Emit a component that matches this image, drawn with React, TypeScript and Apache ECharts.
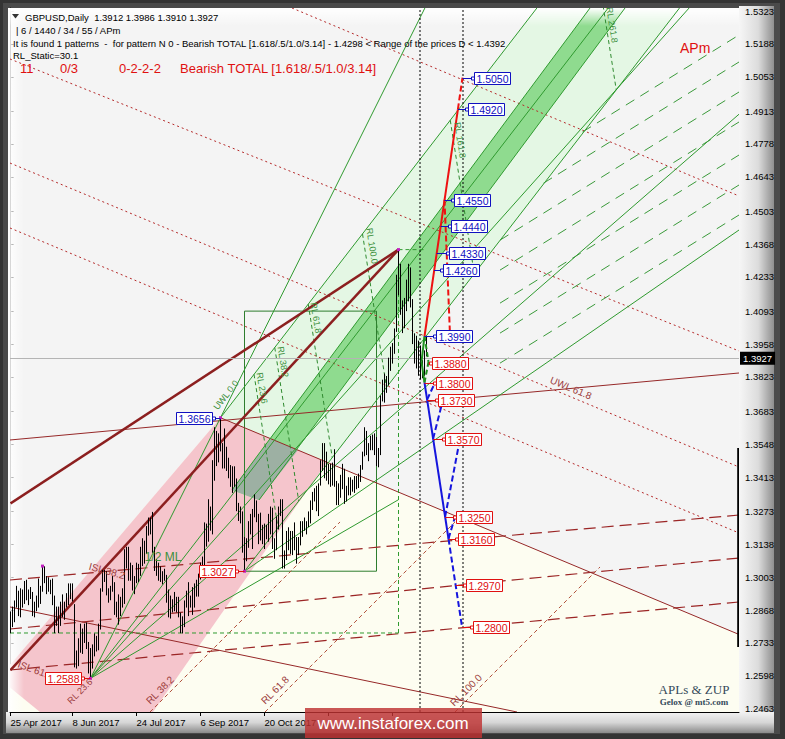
import React, { useEffect, useRef } from "react";
import * as echarts from "echarts";

const FONT = "'Liberation Sans', Arial, sans-serif";
const X_MIN = -0.25;
const X_MAX = 364.25;
const Y_MIN = 1.245;
const Y_MAX = 1.53353;

const priceTicks = [1.2463, 1.2598, 1.2733, 1.2868, 1.3003, 1.3138, 1.3273, 1.3413, 1.3548, 1.3683, 1.3823, 1.3958, 1.4093, 1.4233, 1.4368, 1.4503, 1.4643, 1.4778, 1.4913, 1.5053, 1.5188, 1.5323];
const dateTickBars = [0, 31, 63, 95, 127, 159, 191];
const dateLabelBars = [0, 31, 63, 95, 127];
const dateTickLabels = ["25 Apr 2017", "8 Jun 2017", "24 Jul 2017", "6 Sep 2017", "20 Oct 2017"];
const currentPrice = 1.3927;

const highs = [
  1.2860, 1.2880, 1.2905, 1.2965, 1.2945, 1.2955, 1.2950, 1.2985, 1.2990, 1.2950,
  1.2960, 1.2940, 1.2900, 1.2925, 1.2995, 1.2965, 1.3048, 1.3045, 1.3005, 1.3000,
  1.2990, 1.2995, 1.2925, 1.2880, 1.2880, 1.2900, 1.2930, 1.2900, 1.2935, 1.2975,
  1.2975, 1.2975, 1.2890, 1.2700, 1.2750, 1.2810, 1.2790, 1.2810, 1.2815, 1.2735,
  1.2710, 1.2725, 1.2770, 1.2760, 1.2810, 1.2955, 1.3030, 1.3030, 1.3025, 1.2955,
  1.2965, 1.3005, 1.2980, 1.2900, 1.2930, 1.2920, 1.2955, 1.3115, 1.3125, 1.3125,
  1.3060, 1.3050, 1.3005, 1.3060, 1.3055, 1.3125, 1.3160, 1.3150, 1.3210, 1.3245,
  1.3245, 1.3268, 1.3125, 1.3075, 1.3060, 1.3045, 1.3025, 1.3035, 1.3010, 1.2950,
  1.2925, 1.2910, 1.2940, 1.2920, 1.2920, 1.2855, 1.2840, 1.2905, 1.2945, 1.2980,
  1.2925, 1.2960, 1.2975, 1.2990, 1.3015, 1.3060, 1.3085, 1.3225, 1.3220, 1.3320,
  1.3290, 1.3480, 1.3615, 1.3600, 1.3590, 1.3656, 1.3550, 1.3610, 1.3535, 1.3490,
  1.3460, 1.3455, 1.3455, 1.3405, 1.3305, 1.3290, 1.3270, 1.3165, 1.3160, 1.3230,
  1.3260, 1.3280, 1.3340, 1.3315, 1.3260, 1.3265, 1.3215, 1.3220, 1.3215, 1.3260,
  1.3290, 1.3285, 1.3160, 1.3250, 1.3290, 1.3320, 1.3320, 1.3110, 1.3190, 1.3205,
  1.3190, 1.3190, 1.3225, 1.3165, 1.3165, 1.3230, 1.3230, 1.3245, 1.3230, 1.3270,
  1.3315, 1.3350, 1.3365, 1.3375, 1.3385, 1.3480, 1.3550, 1.3550, 1.3515, 1.3465,
  1.3465, 1.3470, 1.3525, 1.3395, 1.3385, 1.3420, 1.3465, 1.3445, 1.3375, 1.3410,
  1.3410, 1.3400, 1.3415, 1.3415, 1.3425, 1.3460, 1.3515, 1.3615, 1.3600, 1.3550,
  1.3580, 1.3585, 1.3590, 1.3575, 1.3530, 1.3745, 1.3810, 1.3835, 1.3825, 1.3900,
  1.3945, 1.3960, 1.4020, 1.4240, 1.4345, 1.4285, 1.4135, 1.4145, 1.4220, 1.4285,
  1.4270, 1.4140, 1.4000, 1.3990, 1.3970, 1.3950, 1.3890, 1.3930, 1.3986,
];
const lows = [
  1.2775, 1.2800, 1.2820, 1.2880, 1.2845, 1.2840, 1.2880, 1.2895, 1.2910, 1.2890,
  1.2915, 1.2845, 1.2840, 1.2865, 1.2880, 1.2895, 1.2945, 1.2980, 1.2935, 1.2945,
  1.2935, 1.2890, 1.2775, 1.2805, 1.2775, 1.2805, 1.2840, 1.2830, 1.2880, 1.2890,
  1.2915, 1.2905, 1.2635, 1.2630, 1.2640, 1.2695, 1.2690, 1.2735, 1.2710, 1.2610,
  1.2588, 1.2630, 1.2680, 1.2700, 1.2705, 1.2790, 1.2945, 1.2985, 1.2930, 1.2900,
  1.2910, 1.2945, 1.2850, 1.2840, 1.2810, 1.2845, 1.2880, 1.2895, 1.3040, 1.2990,
  1.2990, 1.2950, 1.2935, 1.2980, 1.2985, 1.3010, 1.3050, 1.3060, 1.3100, 1.3175,
  1.3180, 1.3105, 1.3030, 1.3010, 1.2990, 1.2985, 1.2975, 1.2990, 1.2900, 1.2840,
  1.2835, 1.2860, 1.2865, 1.2860, 1.2840, 1.2775, 1.2774, 1.2800, 1.2880, 1.2845,
  1.2880, 1.2850, 1.2880, 1.2925, 1.2925, 1.2995, 1.3030, 1.3050, 1.3130, 1.3150,
  1.3195, 1.3180, 1.3400, 1.3460, 1.3475, 1.3520, 1.3450, 1.3450, 1.3440, 1.3410,
  1.3375, 1.3350, 1.3375, 1.3275, 1.3235, 1.3225, 1.3105, 1.3027, 1.3070, 1.3125,
  1.3180, 1.3120, 1.3250, 1.3230, 1.3140, 1.3155, 1.3140, 1.3120, 1.3160, 1.3150,
  1.3180, 1.3120, 1.3080, 1.3115, 1.3200, 1.3255, 1.3040, 1.3040, 1.3075, 1.3115,
  1.3100, 1.3095, 1.3115, 1.3060, 1.3095, 1.3135, 1.3170, 1.3195, 1.3180, 1.3210,
  1.3225, 1.3280, 1.3315, 1.3275, 1.3255, 1.3380, 1.3440, 1.3410, 1.3400, 1.3385,
  1.3375, 1.3380, 1.3375, 1.3300, 1.3300, 1.3330, 1.3365, 1.3305, 1.3315, 1.3340,
  1.3340, 1.3355, 1.3350, 1.3365, 1.3370, 1.3395, 1.3445, 1.3500, 1.3505, 1.3480,
  1.3525, 1.3525, 1.3505, 1.3460, 1.3455, 1.3505, 1.3725, 1.3720, 1.3760, 1.3790,
  1.3850, 1.3880, 1.3920, 1.4010, 1.4160, 1.4080, 1.4005, 1.4025, 1.4095, 1.4135,
  1.4110, 1.3960, 1.3880, 1.3860, 1.3830, 1.3815, 1.3820, 1.3830, 1.3910,
];

// pivot points marked with small dots
const pivotDotBars = [16, 40, 105, 117, 194];
const pivotDotPrices = [1.3048, 1.2588, 1.3656, 1.3027, 1.4345];

// ---- filled zones (bar, price) ----
const creamZone = [[105, 1.3656], [364.25, 1.27678], [364.25, 1.245], [-0.25, 1.245], [-0.25, 1.26427]];
const lightGreenZone = [[105, 1.3656], [263.2, 1.53353], [334.5, 1.53353], [117, 1.3027]];
const pinkZone = [[-0.25, 1.26427], [105, 1.3656], [158.25, 1.34746], [71.25, 1.245], [14.75, 1.245], [-0.25, 1.255]];
const greenBand = [[110.75, 1.33599], [289.75, 1.53353], [307.25, 1.53353], [124.25, 1.33189]];
const bandOverlap = [[110.75, 1.33599], [130.25, 1.35689], [143.75, 1.35238], [124.25, 1.33189]];
const greenBox = [[117, 1.3027], [117, 1.4093], [183, 1.4093], [183, 1.3027]];

// ---- line segments [bar1, price1, bar2, price2] ----
const thickRedLines = [[0, 1.3305, 194, 1.4345], [0, 1.2622, 194, 1.4345]];
const brownSolidLines = [
  [-0.25, 1.35648, 364.25, 1.38394],
  [105, 1.3656, 364.25, 1.27678],
  [-0.25, 1.28804, 253.25, 1.245],
];
const redDottedLines = [
  [140.75, 1.53353, 364.25, 1.45648],
  [-0.25, 1.51263, 364.25, 1.39296],
  [-0.25, 1.46999, 364.25, 1.34541],
  [-0.25, 1.44337, 364.25, 1.31837],
];
const brownLongDashLines = [
  [-0.25, 1.2991, 364.25, 1.32574],
  [-0.25, 1.27902, 364.25, 1.30812],
  [-0.25, 1.26222, 364.25, 1.29009],
];
const brownRlLines = [
  [69.75, 1.245, 164.75, 1.32288],
  [127.25, 1.245, 222.25, 1.32288],
  [222.25, 1.245, 294.75, 1.30443],
];
const greenSolidLines = [
  [40, 1.2588, 207.2, 1.53353],
  [40, 1.2588, 298.86, 1.53353],
  [105, 1.3656, 263.2, 1.53353],
  [117, 1.3027, 334.5, 1.53353],
  [117, 1.3027, 364.25, 1.44254],
  [40, 1.2588, 339.3, 1.53353],
  [40, 1.2588, 364.25, 1.49],
  [40, 1.2588, 194, 1.33201],
  [110.75, 1.33599, 289.75, 1.53353],
  [124.25, 1.33189, 307.25, 1.53353],
];
const greenLongDashLines = [
  [286, 1.48272, 364.25, 1.52247],
  [266.5, 1.46174, 364.25, 1.5114],
  [244.75, 1.43839, 364.25, 1.4991],
  [244.75, 1.4261, 364.25, 1.48681],
  [244.75, 1.41257, 364.25, 1.47328],
  [244.75, 1.40028, 364.25, 1.46099],
  [244.75, 1.38798, 364.25, 1.44869],
];
const greenRlLines = [
  [121.76, 1.38339, 133.76, 1.32049],
  [132.12, 1.39438, 144.12, 1.33148],
  [148.88, 1.41217, 160.88, 1.34927],
  [176, 1.44095, 188, 1.37805],
  [219.88, 1.48752, 231.88, 1.42462],
  [290.88, 1.56287, 302.88, 1.49997],
];
const greenRangeLines = [[-0.25, 1.27738, 194, 1.27738], [194, 1.27738, 194, 1.4345], [194, 1.4345, 207, 1.4345]];
const blackDottedLines = [[204.75, 1.245, 204.75, 1.53353], [226.25, 1.245, 226.25, 1.53353]];
const edgeMarker = [[364.1, 1.3532, 364.1, 1.27164]];

// ---- projection pattern ----
const redPatternSolid = [[207, 1.399, 223.7, 1.492]];
const redPatternDashed = [[223.7, 1.492, 226, 1.505], [217, 1.455, 219.75, 1.3996]];
const greenPatternSolid = [[207, 1.399, 205.5, 1.3885], [205.5, 1.3885, 207, 1.38]];
const greenPatternDashed = [[207, 1.399, 209, 1.3885], [209, 1.3885, 207, 1.38]];
const bluePatternSolid = [[207, 1.38, 219, 1.316]];
const bluePatternDashed = [[219, 1.316, 225.75, 1.28], [208.3, 1.373, 212.25, 1.38], [211.3, 1.357, 216.25, 1.373], [217.3, 1.325, 224.75, 1.357], [219, 1.316, 222.25, 1.325]];

// ---- level labels ----
const blueLevels = [1.505, 1.492, 1.455, 1.444, 1.433, 1.426, 1.399];
const blueTipBars = [226, 223.7, 217, 215.1, 213.1, 211.8, 207];
const blueBoxBars = [231.75, 228.75, 221.75, 220.25, 219.25, 216.25, 212.75];
const redLevels = [1.388, 1.38, 1.373, 1.357, 1.325, 1.316, 1.297, 1.28];
const redTipBars = [209, 207, 208.3, 211.3, 217.3, 219, 222.6, 225.75];
const redBoxBars = [210.75, 212.75, 213.75, 217.25, 222.75, 223.75, 227.75, 231.25];
const pivotLevels = [1.3656, 1.3027, 1.2588];
const pivotBars = [105, 117, 40];
const pivotBoxBars = [100.75, 112.25, 35.25];
const pivotColors = ["#1010c0", "#e01010", "#e01010"];

// ---- in-chart notes [text, bar, price, rotationDeg, size] ----
const greenNotes: [string, number, number, number, number][] = [
  ["1/2 ML", 76.25, 1.3085, 0, 12],
  ["RL 23.6", 125.75, 1.3778, -81, 9],
  ["RL 38.2", 136.25, 1.3885, -81, 9],
  ["RL 61.8", 152.75, 1.4065, -81, 9],
  ["RL 100.0", 180.75, 1.436, -81, 9],
  ["RL 161.8", 224.75, 1.4794, -81, 9],
  ["RL 261.8", 300.75, 1.5266, -81, 9],
  ["UWL 0.0", 107.75, 1.3749, 52, 9],
];
const brownNotes: [string, number, number, number, number][] = [
  ["UWL 61.8", 280.25, 1.3778, -22.6, 10],
  ["ISL 38.2", 48.25, 1.3028, -15, 10],
  ["ISL 61.8", 12.5, 1.2622, -20, 10],
  ["RL 23.6", 34.75, 1.2535, 45, 9],
  ["RL 38.2", 74.75, 1.254, 45, 10],
  ["RL 61.8", 132.25, 1.254, 45, 10],
  ["RL 100.0", 227.75, 1.254, 45, 10],
];

function segSeries(segs: number[][], color: string, width: number, dash: number[] | null, z: number) {
  return {
    type: "custom",
    z,
    clip: true,
    silent: true,
    data: segs,
    renderItem: (_p: any, api: any) => {
      const a = api.coord([api.value(0), api.value(1)]);
      const b = api.coord([api.value(2), api.value(3)]);
      return {
        type: "line",
        shape: { x1: a[0], y1: a[1], x2: b[0], y2: b[1] },
        style: { stroke: color, lineWidth: width, lineDash: dash || undefined, fill: null },
      };
    },
  };
}

function polySeries(points: number[][], fill: string, z: number, stroke?: string) {
  return {
    type: "custom",
    z,
    clip: true,
    silent: true,
    data: [points[0]],
    renderItem: (_p: any, api: any) => ({
      type: "polygon",
      shape: { points: points.map((pt) => api.coord(pt)) },
      style: { fill, stroke: stroke || null, lineWidth: 1 },
    }),
  };
}

function labelSeries(levels: number[], tips: number[], boxes: number[], colors: string[], z: number) {
  return {
    type: "custom",
    z,
    clip: false,
    silent: true,
    data: levels.map((p, i) => [tips[i], p, boxes[i], i]),
    renderItem: (_p: any, api: any) => {
      const i = api.value(3);
      const color = colors[i % colors.length];
      const tip = api.coord([api.value(0), api.value(1)]);
      const bx = api.coord([api.value(2), api.value(1)]);
      const w = 36;
      const h = 12;
      const y = Math.round(tip[1]) + 0.5;
      const left = bx[0] < tip[0];
      const rx = Math.round(left ? bx[0] - w : bx[0]) + 0.5;
      const sqX = left ? rx + w : rx - 3;
      return {
        type: "group",
        children: [
          { type: "line", shape: { x1: tip[0], y1: y, x2: left ? rx + w : rx, y2: y }, style: { stroke: color, lineWidth: 1 } },
          { type: "rect", shape: { x: sqX, y: y - 1.5, width: 3, height: 3 }, style: { fill: "#fff", stroke: color, lineWidth: 1 } },
          { type: "rect", shape: { x: rx, y: y - h / 2, width: w, height: h }, style: { fill: "#fff", stroke: color, lineWidth: 1 } },
          {
            type: "text",
            x: rx + w / 2,
            y: y + 0.5,
            style: { text: levels[i].toFixed(4), fill: color, font: `10.5px ${FONT}`, align: "center", verticalAlign: "middle" },
          },
        ],
      };
    },
  };
}

function noteSeries(notes: [string, number, number, number, number][], color: string, z: number) {
  return {
    type: "custom",
    z,
    clip: true,
    silent: true,
    data: notes.map((n, i) => [n[1], n[2], i]),
    renderItem: (_p: any, api: any) => {
      const n = notes[api.value(2)];
      const c = api.coord([api.value(0), api.value(1)]);
      return {
        type: "text",
        x: c[0],
        y: c[1],
        rotation: (n[3] * Math.PI) / 180,
        style: { text: n[0], fill: color, font: `${n[4]}px ${FONT}`, align: "center", verticalAlign: "middle" },
      };
    },
  };
}

function buildOption() {
  const barSeries = {
    type: "custom",
    z: 6,
    clip: true,
    silent: true,
    data: highs.map((h, i) => [i, h, lows[i]]),
    renderItem: (_p: any, api: any) => {
      const a = api.coord([api.value(0), api.value(1)]);
      const b = api.coord([api.value(0), api.value(2)]);
      return { type: "line", shape: { x1: a[0], y1: a[1] - 0.5, x2: b[0], y2: b[1] + 0.5 }, style: { stroke: "#000", lineWidth: 1 } };
    },
  };

  const dotSeries = {
    type: "custom",
    z: 8,
    clip: true,
    silent: true,
    data: pivotDotBars.map((b, i) => [b, pivotDotPrices[i]]),
    renderItem: (_p: any, api: any) => {
      const c = api.coord([api.value(0), api.value(1)]);
      return { type: "rect", shape: { x: c[0] - 1.5, y: c[1] - 1.5, width: 3, height: 3 }, style: { fill: "#c020c0" } };
    },
  };

  const graphic: any[] = [
    { type: "rect", z: -20, shape: { x: 0, y: 0, width: 785, height: 739 }, style: { fill: "#343434" } },
    { type: "rect", z: -19, shape: { x: 3, y: 3, width: 777, height: 731 }, style: { fill: "#4a4a4a" } },
    {
      type: "rect", z: -18, shape: { x: 739, y: 6, width: 35, height: 727 },
      style: { fill: new echarts.graphic.LinearGradient(0, 0, 1, 0, [{ offset: 0, color: "#f6f6f6" }, { offset: 0.55, color: "#dcdcdc" }, { offset: 1, color: "#8e8e8e" }]) },
    },
    {
      type: "rect", z: -18, shape: { x: 6, y: 712, width: 768, height: 21 },
      style: { fill: new echarts.graphic.LinearGradient(0, 0, 0, 1, [{ offset: 0, color: "#f2f2f2" }, { offset: 0.5, color: "#d6d6d6" }, { offset: 1, color: "#8a8a8a" }]) },
    },
    { type: "rect", z: -17, shape: { x: 8, y: 8, width: 731, height: 704 }, style: { fill: "#f4f4f4" } },
    {
      type: "rect", z: 2.5, shape: { x: 8, y: 8, width: 731, height: 18 },
      style: { fill: new echarts.graphic.LinearGradient(0, 0, 0, 1, [{ offset: 0, color: "rgba(255,255,255,1)" }, { offset: 1, color: "rgba(255,255,255,0)" }]) },
    },
    {
      type: "rect", z: 2.5, shape: { x: 8, y: 8, width: 16, height: 704 },
      style: { fill: new echarts.graphic.LinearGradient(0, 0, 1, 0, [{ offset: 0, color: "rgba(255,255,255,1)" }, { offset: 1, color: "rgba(255,255,255,0)" }]) },
    },
    { type: "polygon", z: 10, shape: { points: [[12, 14], [19, 14], [15.5, 18.5]] }, style: { fill: "#333" } },
    { type: "text", z: 10, x: 25, y: 17, style: { text: "GBPUSD,Daily  1.3912 1.3986 1.3910 1.3927", fill: "#000", font: `9.5px ${FONT}`, verticalAlign: "middle" } },
    { type: "text", z: 10, x: 16, y: 30, style: { text: "| 6 / 1440 / 34 / 55 / APm", fill: "#000", font: `9.5px ${FONT}`, verticalAlign: "middle" } },
    { type: "text", z: 10, x: 13, y: 43, style: { text: "It is found 1 patterns  -  for pattern N 0 - Bearish TOTAL [1.618/.5/1.0/3.14] - 1.4298 < Range of the prices D < 1.4392", fill: "#000", font: `9.5px ${FONT}`, verticalAlign: "middle" } },
    { type: "text", z: 10, x: 13, y: 55, style: { text: "RL_Static=30.1", fill: "#000", font: `9.5px ${FONT}`, verticalAlign: "middle" } },
    { type: "text", z: 10, x: 20, y: 68, style: { text: "11", fill: "#e01010", font: `13px ${FONT}`, verticalAlign: "middle" } },
    { type: "text", z: 10, x: 60, y: 68, style: { text: "0/3", fill: "#e01010", font: `13px ${FONT}`, verticalAlign: "middle" } },
    { type: "text", z: 10, x: 119, y: 68, style: { text: "0-2-2-2", fill: "#e01010", font: `13px ${FONT}`, verticalAlign: "middle" } },
    { type: "text", z: 10, x: 180, y: 68, style: { text: "Bearish TOTAL [1.618/.5/1.0/3.14]", fill: "#e01010", font: `13px ${FONT}`, verticalAlign: "middle" } },
    { type: "text", z: 10, x: 680, y: 48, style: { text: "APm", fill: "#e01010", font: `14px ${FONT}`, verticalAlign: "middle" } },
    { type: "text", z: 10, x: 694, y: 689, style: { text: "APLs & ZUP", fill: "#34495a", font: `13px 'Liberation Serif', serif`, align: "center", verticalAlign: "middle" } },
    { type: "text", z: 10, x: 694, y: 702, style: { text: "Gelox @ mt5.com", fill: "#34495a", font: `bold 9px 'Liberation Serif', serif`, align: "center", verticalAlign: "middle" } },
    { type: "rect", z: 30, shape: { x: 305, y: 708, width: 177, height: 30 }, style: { fill: "rgba(190,50,50,0.82)" } },
    { type: "text", z: 31, x: 393, y: 723, style: { text: "www.instaforex.com", fill: "#ffffff", font: `17px ${FONT}`, align: "center", verticalAlign: "middle" } },
  ];

  return {
    animation: false,
    backgroundColor: "transparent",
    grid: { left: 10, right: 46, top: 8, bottom: 27, containLabel: false },
    xAxis: {
      type: "value",
      min: X_MIN,
      max: X_MAX,
      axisLine: { show: true, lineStyle: { color: "#000", width: 1 } },
      axisTick: { show: true, customValues: dateTickBars, length: 4, lineStyle: { color: "#000" } },
      axisLabel: {
        customValues: dateLabelBars,
        formatter: (v: number) => {
          const k = dateLabelBars.indexOf(Math.round(v));
          return k >= 0 ? dateTickLabels[k] : "";
        },
        align: "left",
        margin: 5,
        color: "#000",
        fontSize: 9.5,
        fontFamily: FONT,
      },
      splitLine: { show: false },
    },
    yAxis: {
      type: "value",
      position: "right",
      min: Y_MIN,
      max: Y_MAX,
      axisLine: { show: true, lineStyle: { color: "#000", width: 1 } },
      axisTick: { show: true, customValues: priceTicks, length: 3, lineStyle: { color: "#000" } },
      axisLabel: {
        customValues: priceTicks,
        formatter: (v: number) => v.toFixed(4),
        margin: 6,
        color: "#000",
        fontSize: 9.5,
        fontFamily: FONT,
      },
      splitLine: { show: false },
    },
    graphic,
    series: [
      polySeries(creamZone, "#fdfdf1", 1),
      polySeries(lightGreenZone, "#e4f7e4", 1),
      polySeries(pinkZone, "#f5c5cc", 1),
      polySeries(greenBand, "#8fdb8f", 1),
      polySeries(bandOverlap, "#9db0a3", 1),
      polySeries(greenBox, "transparent", 3, "#2e7d2e"),
      segSeries(brownLongDashLines, "#9b2525", 1.2, [12, 6], 3),
      segSeries(brownRlLines, "#b0503a", 1, [4, 3], 3),
      segSeries(redDottedLines, "#b52a2a", 1, [2, 3], 3),
      segSeries(brownSolidLines, "#962828", 1, null, 3),
      segSeries(greenSolidLines, "#2f9a2f", 1, null, 3),
      segSeries(greenLongDashLines, "#3a9a3a", 1, [10, 7], 3),
      segSeries(greenRlLines, "#2f8a2f", 1, [4, 3], 3),
      segSeries(greenRangeLines, "#2f9a2f", 1, [4, 3], 3),
      segSeries(blackDottedLines, "#000", 1, [2, 2], 3),
      segSeries(thickRedLines, "#8c1f1f", 2.5, null, 4),
      {
        type: "line",
        z: 3,
        data: [],
        markLine: {
          silent: true,
          symbol: "none",
          animation: false,
          lineStyle: { color: "#b4b4b4", type: "solid", width: 1 },
          label: {
            position: "end",
            distance: 1,
            formatter: currentPrice.toFixed(4),
            backgroundColor: "#000",
            color: "#fff",
            padding: [2, 3, 1, 3],
            fontSize: 9.5,
            fontFamily: FONT,
          },
          data: [{ yAxis: currentPrice }],
        },
      },
      barSeries,
      dotSeries,
      segSeries(edgeMarker, "#000", 3, null, 6),
      segSeries(greenPatternSolid, "#1f8f1f", 2, null, 7),
      segSeries(greenPatternDashed, "#1f8f1f", 2, [5, 3], 7),
      segSeries(redPatternSolid, "#ee1111", 2, null, 7),
      segSeries(redPatternDashed, "#ee1111", 2, [6, 3], 7),
      segSeries(bluePatternSolid, "#1515dd", 2, null, 7),
      segSeries(bluePatternDashed, "#1515dd", 2, [6, 3], 7),
      noteSeries(greenNotes, "#3b8f3b", 8),
      noteSeries(brownNotes, "#9b3b3b", 8),
      labelSeries(blueLevels, blueTipBars, blueBoxBars, ["#1010c0"], 9),
      labelSeries(redLevels, redTipBars, redBoxBars, ["#e01010"], 9),
      labelSeries(pivotLevels, pivotBars, pivotBoxBars, pivotColors, 9),
    ],
  };
}

export default function App() {
  const ref = useRef<HTMLDivElement>(null);
  useEffect(() => {
    if (!ref.current) return;
    const chart = echarts.init(ref.current, null, { renderer: "svg", width: 785, height: 739 });
    chart.setOption(buildOption() as any);
    return () => chart.dispose();
  }, []);
  return <div ref={ref} style={{ position: "absolute", left: 0, top: 0, width: 785, height: 739 }} />;
}
